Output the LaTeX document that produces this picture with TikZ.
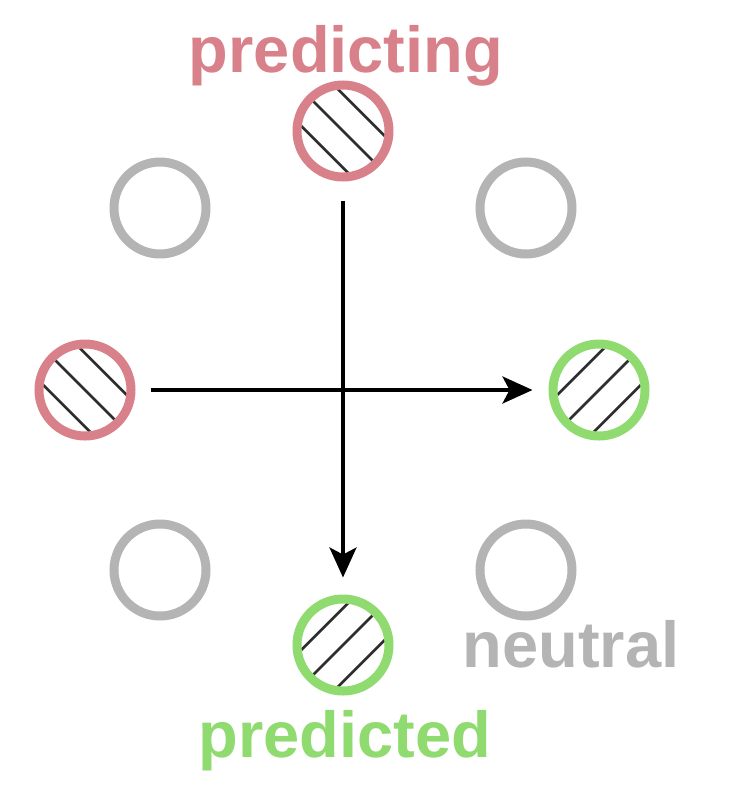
\documentclass[tikz,border=0pt]{standalone}
\usepackage{fontspec}
\setmainfont{Liberation Sans}
\usetikzlibrary{arrows.meta}
\definecolor{predred}{HTML}{D9818A}
\definecolor{predgreen}{HTML}{8FDB6F}
\definecolor{neutgray}{HTML}{B4B4B4}
\definecolor{hatchgray}{HTML}{2E2E2E}
\tikzset{
  ring/.style={circle, minimum size=92pt, inner sep=0pt, line width=9pt, draw=#1},
  hatchline/.style={draw=hatchgray, line width=2.6pt},
  backhatch/.style={path picture={
    \foreach \o in {-26,0,26}
      \draw[hatchline] ([shift={({\o*0.707-45},{-\o*0.707-45})}]path picture bounding box.center)
                    -- ([shift={({\o*0.707+45},{-\o*0.707+45})}]path picture bounding box.center);}},
  fwdhatch/.style={path picture={
    \foreach \o in {-26,0,26}
      \draw[hatchline] ([shift={({\o*0.707-45},{\o*0.707+45})}]path picture bounding box.center)
                    -- ([shift={({\o*0.707+45},{\o*0.707-45})}]path picture bounding box.center);}},
  arrowline/.style={line width=3.5pt, draw=black, -{Stealth[length=30pt,width=27pt,inset=7pt]}},
  label/.style={font=\bfseries\fontsize{65}{70}\selectfont, anchor=base, inner sep=0pt, text=#1}
}
\begin{document}
\begin{tikzpicture}[x=1pt,y=-1pt]
\useasboundingbox (0,0) rectangle (738,796);
\node[ring=predred, backhatch] (top) at (343,131) {};
\node[ring=predred, backhatch] (left) at (85,390) {};
\node[ring=predgreen, fwdhatch] (right) at (599,390) {};
\node[ring=predgreen, fwdhatch] (bottom) at (343,645) {};
\node[ring=neutgray] (tl) at (160,208) {};
\node[ring=neutgray] (tr) at (526,208) {};
\node[ring=neutgray] (bl) at (160,570) {};
\node[ring=neutgray] (br) at (526,570) {};
\draw[arrowline, shorten <=19pt, shorten >=17pt] (top.south) -- (bottom.north);
\draw[arrowline, shorten <=15pt, shorten >=16pt] (left.east) -- (right.west);
\node[label=predred] (tpredicting) at (346,72) {predicting};
\node[label=neutgray] (tneutral) at (571,667) {neutral};
\node[label=predgreen] (tpredicted) at (345,757) {predicted};
\end{tikzpicture}
\end{document}
